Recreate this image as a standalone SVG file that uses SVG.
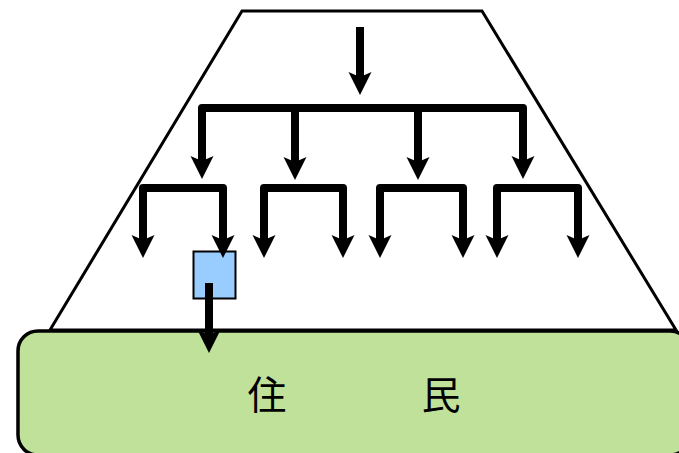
<svg xmlns="http://www.w3.org/2000/svg" width="679" height="453" viewBox="0 0 679 453">
  <style>
    .frame { fill: #ffffff; stroke: #000000; stroke-width: 3; stroke-linejoin: miter; }
    .base { fill: #bfe19a; stroke: #000000; stroke-width: 3.5; }
    .office { fill: #99ccff; stroke: #000000; stroke-width: 2; }
    .flow { fill: none; stroke: #000000; stroke-width: 8; stroke-linejoin: round; }
    .label { font-family: "Noto Sans CJK JP", "Noto Sans CJK SC", sans-serif; font-size: 39px; font-weight: normal; fill: #000000; text-anchor: middle; }
  </style>
  <defs>
    <marker id="head" markerUnits="userSpaceOnUse" markerWidth="30" markerHeight="30" viewBox="-2 -14 30 28" refX="5" refY="0" orient="auto-start-reverse" overflow="visible">
      <path d="M0,-11.5 L23,0 L0,11.5 L5,0 Z" fill="#000000"/>
    </marker>
  </defs>

  <!-- administrative pyramid outline -->
  <g id="pyramid">
    <polygon class="frame" points="242,11 482,11 676,330 50,330"/>
  </g>

  <!-- residents base -->
  <g id="residents">
    <rect class="base" x="18" y="331" width="672" height="124" rx="20" ry="20"/>
    <text class="label" x="267" y="409">住</text>
    <text class="label" x="441" y="409">民</text>
  </g>

  <!-- local office -->
  <g id="office">
    <rect class="office" x="193.5" y="251.5" width="42" height="47"/>
  </g>

  <g id="connectors">
    <!-- top directive -->
    <path class="flow" d="M360,27 V77" marker-end="url(#head)"/>
    <!-- first tier -->
    <path class="flow" d="M202,161 V108 H523 V161" marker-start="url(#head)" marker-end="url(#head)"/>
    <path class="flow" d="M295,108 V162" marker-end="url(#head)"/>
    <path class="flow" d="M418,108 V162" marker-end="url(#head)"/>
    <!-- second tier -->
    <path class="flow" d="M143,240 V188 H223 V240" marker-start="url(#head)" marker-end="url(#head)"/>
    <path class="flow" d="M264,240 V188 H343 V240" marker-start="url(#head)" marker-end="url(#head)"/>
    <path class="flow" d="M380,240 V188 H463 V240" marker-start="url(#head)" marker-end="url(#head)"/>
    <path class="flow" d="M497,240 V188 H578 V240" marker-start="url(#head)" marker-end="url(#head)"/>
    <!-- office to residents -->
    <path class="flow" d="M209,283 V335" stroke-linejoin="miter" marker-end="url(#head)"/>
  </g>
</svg>
